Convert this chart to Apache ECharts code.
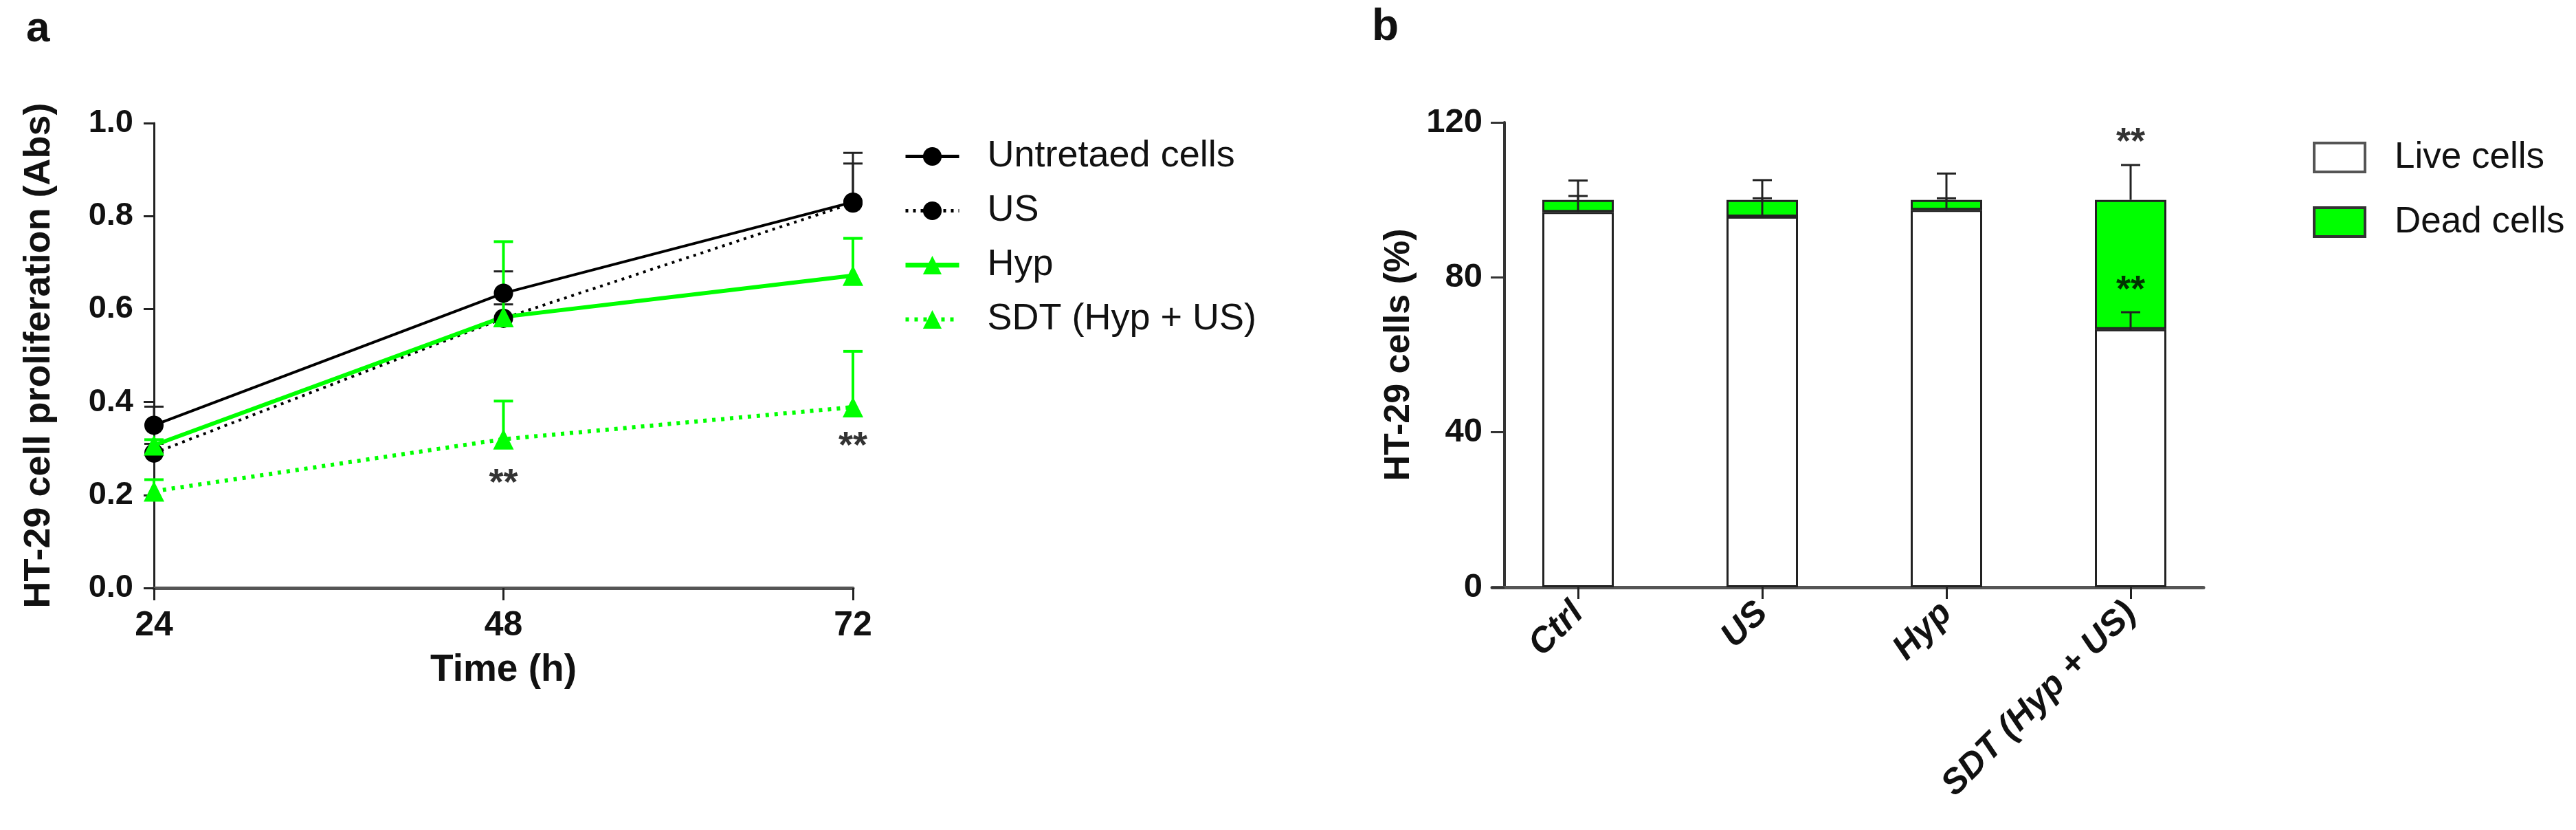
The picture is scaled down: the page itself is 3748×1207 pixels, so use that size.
<!DOCTYPE html>
<html>
<head>
<meta charset="utf-8">
<script src="https://cdn.jsdelivr.net/npm/echarts@6/dist/echarts.min.js"></script>
<style>
  html, body { margin: 0; padding: 0; background: #fff; }
  #chart { width: 3748px; height: 1207px; }
</style>
</head>
<body>
<div id="chart"></div>
<script>
// panel a: proliferation over time
const times = [24, 48, 72];
const untreated = [0.35, 0.634, 0.83];
const untreatedErr = [0.04, 0.047, 0.083];
const us = [0.29, 0.58, 0.828];
const usErr = [0.02, 0.03, 0.108];
const hyp = [0.307, 0.583, 0.672];
const hypErr = [0.012, 0.162, 0.08];
const sdt = [0.208, 0.32, 0.389];
const sdtErr = [0.025, 0.082, 0.12];
const starsA = [[48, 0.223], [72, 0.303]];

// panel b: live / dead cells
const groups = ['Ctrl', 'US', 'Hyp', 'SDT (Hyp + US)'];
const liveCells = [96.9, 95.7, 97.4, 66.6];
const liveErr = [4.1, 4.7, 3.0, 4.4];
const deadCells = [3.1, 4.3, 2.6, 33.4];
const deadErr = [5.0, 5.1, 6.8, 9.0];
const starsB = [[3, 114.7], [3, 76.5]];

const FONT = '"Liberation Sans", Arial, sans-serif';
const GREEN = '#00ff00';

const chart = echarts.init(document.getElementById('chart'));

// one-sided (upward) error bars
function errorSeries(name, xi, yi, data, color, width) {
  return {
    type: 'custom',
    name: name,
    xAxisIndex: xi,
    yAxisIndex: yi,
    silent: true,
    z: 4,
    data: data,
    encode: {x: 0, y: [1, 2]},
    renderItem: (params, api) => {
      const p0 = api.coord([api.value(0), api.value(1)]);
      const p1 = api.coord([api.value(0), api.value(2)]);
      const half = 14;
      return {
        type: 'group',
        children: [
          {type: 'line', shape: {x1: p0[0], y1: p0[1], x2: p1[0], y2: p1[1]}, style: {stroke: color, lineWidth: width}},
          {type: 'line', shape: {x1: p1[0] - half, y1: p1[1], x2: p1[0] + half, y2: p1[1]}, style: {stroke: color, lineWidth: width}}
        ]
      };
    }
  };
}

const pairs = (vals) => times.map((t, i) => [t, vals[i]]);
const errs = (vals, e) => times.map((t, i) => [t, vals[i], vals[i] + e[i]]);

function starSeries(xi, yi, data) {
  return {
    type: 'scatter',
    xAxisIndex: xi,
    yAxisIndex: yi,
    symbolSize: 0,
    silent: true,
    z: 6,
    data: data,
    label: {show: true, position: 'inside', formatter: '**', fontSize: 54, fontWeight: 'bold', color: '#000', fontFamily: FONT}
  };
}

const option = {
  backgroundColor: '#fff',
  animation: false,
  graphic: [
    {type: 'text', left: 38, top: 12, style: {text: 'a', font: 'bold 62px ' + FONT, fill: '#111'}},
    {type: 'text', left: 1996, top: 8, style: {text: 'b', font: 'bold 64px ' + FONT, fill: '#111'}}
  ],
  grid: [
    {left: 224, top: 179, width: 1017, height: 676},
    {left: 2162, top: 178, width: 1072, height: 676},
    {left: 2171, top: 178, width: 1035, height: 676}
  ],
  legend: [
    {
      orient: 'vertical',
      left: 1309,
      top: 192,
      itemWidth: 78,
      itemHeight: 34,
      itemGap: 18,
      textStyle: {fontSize: 54, fontFamily: FONT, color: '#111', lineHeight: 61, padding: [0, 0, 0, 36]},
      data: [
        {name: 'Untretaed cells', lineStyle: {width: 5}},
        {name: 'US', lineStyle: {width: 5}},
        {name: 'Hyp', lineStyle: {width: 7}},
        {name: 'SDT (Hyp + US)', lineStyle: {width: 6}}
      ]
    },
    {
      orient: 'vertical',
      left: 3360,
      top: 194,
      icon: 'rect',
      itemWidth: 74,
      itemHeight: 42,
      itemGap: 34,
      textStyle: {fontSize: 53, fontFamily: FONT, color: '#111', lineHeight: 60, padding: [0, 0, 0, 38]},
      data: [
        {name: 'Live cells', itemStyle: {color: '#fff', borderColor: '#555', borderWidth: 4}},
        {name: 'Dead cells', itemStyle: {color: GREEN, borderColor: '#333', borderWidth: 4}}
      ]
    }
  ],
  xAxis: [
    {
      type: 'value',
      gridIndex: 0,
      min: 24,
      max: 72,
      interval: 24,
      name: 'Time (h)',
      nameLocation: 'middle',
      nameGap: 92,
      nameTextStyle: {fontSize: 55, fontWeight: 'bold', fontFamily: FONT, color: '#111'},
      axisLine: {lineStyle: {color: '#555', width: 5}},
      axisTick: {length: 18, lineStyle: {color: '#222', width: 3}},
      axisLabel: {margin: 30, fontSize: 50, fontWeight: 'bold', fontFamily: FONT, color: '#111'},
      splitLine: {show: false}
    },
    {
      type: 'category',
      gridIndex: 1,
      data: groups,
      axisLine: {show: false},
      axisTick: {show: true, alignWithLabel: true, length: 17, lineStyle: {color: '#222', width: 3}},
      axisLabel: {
        rotate: 45,
        margin: 30,
        fontSize: 51,
        fontWeight: 'bold',
        fontStyle: 'italic',
        fontFamily: FONT,
        color: '#111'
      },
      splitLine: {show: false}
    },
    {
      // plain baseline for panel b
      type: 'value',
      gridIndex: 2,
      min: 0,
      max: 1,
      axisLine: {show: true, lineStyle: {color: '#555', width: 5}},
      axisTick: {show: false},
      axisLabel: {show: false},
      splitLine: {show: false}
    }
  ],
  yAxis: [
    {
      type: 'value',
      gridIndex: 0,
      min: 0,
      max: 1.0,
      interval: 0.2,
      name: 'HT-29 cell proliferation (Abs)',
      nameLocation: 'middle',
      nameGap: 140,
      nameTextStyle: {fontSize: 54, fontWeight: 'bold', fontFamily: FONT, color: '#111'},
      axisLine: {show: true, lineStyle: {color: '#222', width: 3}},
      axisTick: {show: true, length: 15, lineStyle: {color: '#222', width: 3}},
      axisLabel: {margin: 30, fontSize: 47, fontWeight: 'bold', fontFamily: FONT, color: '#111', formatter: (v) => v.toFixed(1)},
      splitLine: {show: false}
    },
    {
      type: 'value',
      gridIndex: 1,
      min: 0,
      max: 120,
      interval: 40,
      offset: -27,
      name: 'HT-29 cells (%)',
      nameLocation: 'middle',
      nameGap: 127,
      nameTextStyle: {fontSize: 52, fontWeight: 'bold', fontFamily: FONT, color: '#111'},
      axisLine: {show: true, lineStyle: {color: '#333', width: 4}},
      axisTick: {show: true, length: 20, lineStyle: {color: '#333', width: 3}},
      axisLabel: {margin: 32, fontSize: 49, fontWeight: 'bold', fontFamily: FONT, color: '#111'},
      splitLine: {show: false}
    },
    {
      type: 'value',
      gridIndex: 2,
      show: false
    }
  ],
  series: [
    errorSeries('e-untreated', 0, 0, errs(untreated, untreatedErr), '#222', 3),
    errorSeries('e-us', 0, 0, errs(us, usErr), '#222', 3),
    errorSeries('e-hyp', 0, 0, errs(hyp, hypErr), GREEN, 4),
    errorSeries('e-sdt', 0, 0, errs(sdt, sdtErr), GREEN, 4),
    {
      name: 'Untretaed cells', type: 'line', xAxisIndex: 0, yAxisIndex: 0, z: 5,
      data: pairs(untreated), symbol: 'circle', symbolSize: 28,
      lineStyle: {color: '#000', width: 4}, itemStyle: {color: '#000'}
    },
    {
      name: 'US', type: 'line', xAxisIndex: 0, yAxisIndex: 0, z: 5,
      data: pairs(us), symbol: 'circle', symbolSize: 28,
      lineStyle: {color: '#000', width: 4, type: [4, 7]}, itemStyle: {color: '#000'}
    },
    {
      name: 'Hyp', type: 'line', xAxisIndex: 0, yAxisIndex: 0, z: 5,
      data: pairs(hyp), symbol: 'triangle', symbolSize: 30,
      lineStyle: {color: GREEN, width: 6}, itemStyle: {color: GREEN}
    },
    {
      name: 'SDT (Hyp + US)', type: 'line', xAxisIndex: 0, yAxisIndex: 0, z: 5,
      data: pairs(sdt), symbol: 'triangle', symbolSize: 30,
      lineStyle: {color: GREEN, width: 6, type: [5, 8]}, itemStyle: {color: GREEN}
    },
    starSeries(0, 0, starsA),

    {
      name: 'Live cells', type: 'bar', xAxisIndex: 1, yAxisIndex: 1, stack: 'cells',
      barWidth: 104,
      data: liveCells,
      itemStyle: {color: '#fff', borderColor: '#222', borderWidth: 3}
    },
    {
      name: 'Dead cells', type: 'bar', xAxisIndex: 1, yAxisIndex: 1, stack: 'cells',
      barWidth: 104,
      data: deadCells,
      itemStyle: {color: GREEN, borderColor: '#222', borderWidth: 3}
    },
    errorSeries('e-live', 1, 1, liveCells.map((v, i) => [i, v, v + liveErr[i]]), '#222', 3),
    errorSeries('e-dead', 1, 1, liveCells.map((v, i) => [i, v + deadCells[i], v + deadCells[i] + deadErr[i]]), '#222', 3),
    starSeries(1, 1, starsB)
  ]
};

chart.setOption(option);
</script>
</body>
</html>
